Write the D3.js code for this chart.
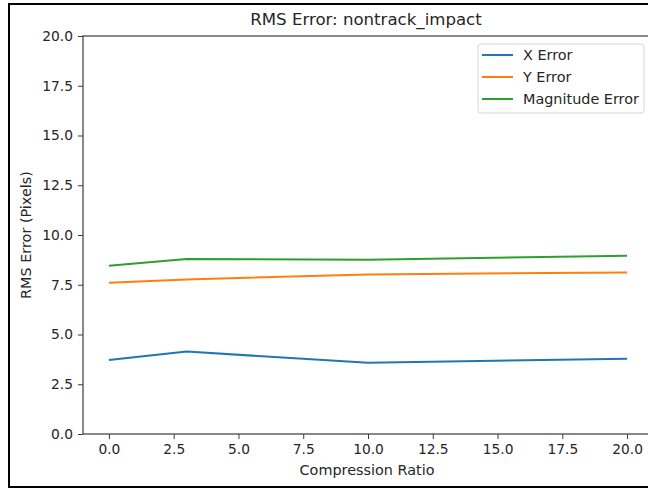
<!DOCTYPE html>
<html>
<head>
<meta charset="utf-8">
<script src="https://cdn.jsdelivr.net/npm/d3@7"></script>
<style>
  body { margin: 0; background: #fff; }
  text { font-family: "DejaVu Sans", sans-serif; fill: #262626; }
  .axis path, .axis line { stroke: #3a3a3a; }
  .axis text { font-size: 13.8px; }
</style>
</head>
<body>
<div id="chart"></div>
<script>
// compression ratios on the x axis
var ratios = [0, 3, 10, 20];

// rms error values per series
var xError = [3.72, 4.14, 3.58, 3.78];
var yError = [7.60, 7.77, 8.02, 8.12];
var magError = [8.46, 8.79, 8.76, 8.96];

var seriesNames = ["X Error", "Y Error", "Magnitude Error"];
var colors = ["#1f77b4", "#ff7f0e", "#2ca02c"];

var xTicks = [0, 2.5, 5, 7.5, 10, 12.5, 15, 17.5, 20];
var yTicks = [0, 2.5, 5, 7.5, 10, 12.5, 15, 17.5, 20];

// Define the margins of the svg
var W = 648, H = 489;
var margin = {top: 36, right: -5, bottom: 55, left: 83},
    width = W - margin.left - margin.right,
    height = H - margin.top - margin.bottom;

var svg = d3.select("#chart").append("svg")
    .attr("width", W)
    .attr("height", H);

// outer frame of the screenshot
svg.append("rect")
    .attr("x", 9).attr("y", 4)
    .attr("width", W + 10).attr("height", 483)
    .attr("fill", "none")
    .attr("stroke", "#000")
    .attr("stroke-width", 2);

var g = svg.append("g")
    .attr("transform", "translate(" + margin.left + "," + margin.top + ")");

// scales (matplotlib style 5% margins on x)
var x = d3.scaleLinear().domain([-1, 21]).range([0, width]);
var y = d3.scaleLinear().domain([0, 20]).range([height, 0]);

// spines
g.append("rect")
    .attr("x", 0).attr("y", 0)
    .attr("width", width).attr("height", height)
    .attr("fill", "none")
    .attr("stroke", "#3a3a3a")
    .attr("stroke-width", 1.2);

// axes
g.append("g")
    .attr("class", "x axis")
    .attr("transform", "translate(0," + height + ")")
    .call(d3.axisBottom(x).tickValues(xTicks).tickFormat(d3.format(".1f")).tickSize(5).tickPadding(5))
    .call(function(s) { s.select(".domain").remove(); });

g.append("g")
    .attr("class", "y axis")
    .call(d3.axisLeft(y).tickValues(yTicks).tickFormat(d3.format(".1f")).tickSize(5).tickPadding(5))
    .call(function(s) { s.select(".domain").remove(); });

// lines
var series = [xError, yError, magError];
var line = d3.line()
    .x(function(d, i) { return x(ratios[i]); })
    .y(function(d) { return y(d); });

series.forEach(function(vals, k) {
    g.append("path")
        .datum(vals)
        .attr("fill", "none")
        .attr("stroke", colors[k])
        .attr("stroke-width", 2)
        .attr("d", line);
});

// title and labels
svg.append("text")
    .attr("x", 366).attr("y", 25)
    .attr("text-anchor", "middle")
    .style("font-size", "16.6px")
    .text("RMS Error: nontrack_impact");

svg.append("text")
    .attr("x", 367).attr("y", 475)
    .attr("text-anchor", "middle")
    .style("font-size", "14.4px")
    .text("Compression Ratio");

svg.append("text")
    .attr("transform", "translate(31," + (margin.top + height / 2) + ") rotate(-90)")
    .attr("text-anchor", "middle")
    .style("font-size", "14.4px")
    .text("RMS Error (Pixels)");

// legend
var legend = svg.append("g").attr("transform", "translate(478,44)");
legend.append("rect")
    .attr("width", 166).attr("height", 69)
    .attr("rx", 3)
    .attr("fill", "#fff")
    .attr("stroke", "#d6d6d6");

seriesNames.forEach(function(name, i) {
    var ly = 11 + i * 22;
    legend.append("line")
        .attr("x1", 4).attr("x2", 35)
        .attr("y1", ly).attr("y2", ly)
        .attr("stroke", colors[i])
        .attr("stroke-width", 2);
    legend.append("text")
        .attr("x", 45).attr("y", ly + 5)
        .style("font-size", "14.4px")
        .text(name);
});
</script>
</body>
</html>
